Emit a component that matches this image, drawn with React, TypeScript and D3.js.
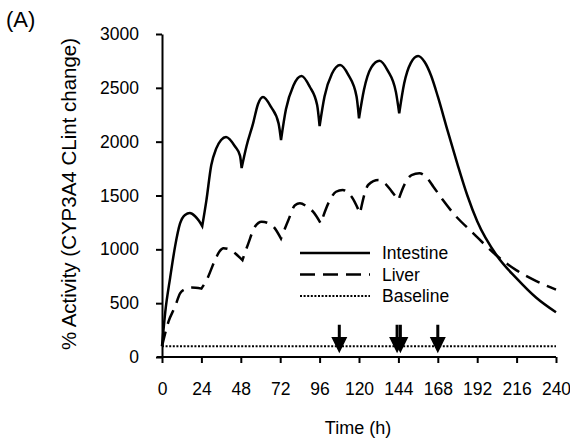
import React, { useEffect, useRef } from "react";
import * as d3 from "d3";

// time (h), % activity
const intestine: [number, number][] = [
  [0, 100], [2, 420], [5, 740], [8, 1030], [11, 1240], [14, 1320], [17, 1337], [20, 1310], [22.5, 1265], [24.5, 1215],
  [27, 1450], [30, 1780], [33, 1935], [36, 2015], [39, 2043], [44.5, 1955], [47.5, 1870], [48.5, 1755],
  [51.5, 1960], [55.5, 2170], [58.5, 2350], [61.5, 2415], [66.5, 2320], [71, 2170], [72.5, 2015],
  [75.5, 2300], [80, 2520], [85, 2610], [90, 2510], [94.5, 2340], [96, 2145],
  [99, 2420], [103.5, 2630], [108.5, 2712], [113.5, 2620], [118.5, 2420], [120, 2217],
  [123, 2480], [127.5, 2690], [132.5, 2752], [137.5, 2660], [142.5, 2460], [144.5, 2263],
  [147.5, 2540], [151.5, 2730], [156, 2796], [160, 2740], [164, 2610], [168, 2420], [174, 2100],
  [180, 1790], [186, 1500], [192, 1260], [204, 940], [216, 730], [228, 550], [240, 415],
];

const liver: [number, number][] = [
  [0, 100], [4, 330], [8, 470], [11, 590], [14, 630], [18, 645], [24, 635],
  [27.2, 715], [32.3, 900], [35, 980], [37.4, 1010], [41, 1000], [44.5, 963], [49, 900],
  [52.6, 1056], [56.6, 1210], [60.7, 1257], [66.8, 1226], [72.5, 1100],
  [77, 1272], [81, 1410], [84, 1427], [88, 1400], [92, 1350], [96.7, 1241],
  [102.3, 1458], [106, 1535], [110, 1551], [115.5, 1489], [120.6, 1334],
  [125.7, 1600], [131.8, 1644], [136, 1610], [140, 1536], [144, 1458],
  [148, 1610], [152, 1690], [156.8, 1706], [161, 1670], [165.3, 1582], [171, 1460], [177.5, 1334],
  [189.6, 1149], [204, 940], [216, 805], [228, 705], [240, 625],
];

const baseline: [number, number][] = [[0, 100], [240, 100]];

// dosing arrows (h); 144 is drawn as a double arrow
const arrowTimes = [108, 143.2, 145.2, 168];

const xTicks = [0, 24, 48, 72, 96, 120, 144, 168, 192, 216, 240];
const yTicks = [0, 500, 1000, 1500, 2000, 2500, 3000];

const seriesNames = ["Intestine", "Liver", "Baseline"];

const FONT = "'Liberation Sans', Arial, sans-serif";

export default function App() {
  const ref = useRef<SVGSVGElement>(null);

  useEffect(() => {
    const svg = d3.select(ref.current);
    svg.selectAll("*").remove();

    const x = d3.scaleLinear().domain([0, 240]).range([162, 556]);
    const y = d3.scaleLinear().domain([0, 3000]).range([357, 34]);

    const line = d3
      .line<[number, number]>()
      .x((d) => x(d[0]))
      .y((d) => y(d[1]))
      .curve(d3.curveMonotoneX);

    // split at troughs so each dosing interval is its own smooth piece (sharp V at the dose)
    const cuspPath = (data: [number, number][]) => {
      const pieces: [number, number][][] = [];
      let cur: [number, number][] = [data[0]];
      for (let i = 1; i < data.length; i++) {
        cur.push(data[i]);
        const isTrough =
          i < data.length - 1 && data[i][1] < data[i - 1][1] && data[i][1] < data[i + 1][1];
        if (isTrough) {
          pieces.push(cur);
          cur = [data[i]];
        }
      }
      pieces.push(cur);
      return pieces
        .map((p, i) => {
          const s = line(p) || "";
          return i === 0 ? s : "L" + s.slice(1);
        })
        .join("");
    };

    // axes
    const gy = svg
      .append("g")
      .attr("transform", `translate(${x(0)},0)`)
      .call(
        d3
          .axisLeft(y)
          .tickValues(yTicks)
          .tickFormat(d3.format("d"))
          .tickSize(6)
          .tickSizeOuter(0)
          .tickPadding(17)
      );
    const gx = svg
      .append("g")
      .attr("transform", `translate(0,${y(0)})`)
      .call(
        d3.axisBottom(x).tickValues(xTicks).tickSize(6).tickSizeOuter(0).tickPadding(20)
      );
    [gx, gy].forEach((g) => {
      g.select(".domain").attr("stroke", "#000").attr("stroke-width", 2);
      g.selectAll(".tick line").attr("stroke", "#000").attr("stroke-width", 2);
      g.selectAll(".tick text")
        .attr("fill", "#000")
        .style("font-family", FONT)
        .style("font-size", "17.5px");
    });
    // extend x axis slightly left like the original
    gx.select(".domain").attr("d", `M${x(0) - 5},0H${x(240)}`);

    // baseline
    svg
      .append("path")
      .attr("d", line(baseline))
      .attr("fill", "none")
      .attr("stroke", "#000")
      .attr("stroke-width", 2)
      .attr("stroke-dasharray", "2,1.6");

    svg
      .append("path")
      .attr("d", cuspPath(liver))
      .attr("fill", "none")
      .attr("stroke", "#000")
      .attr("stroke-width", 2.5)
      .attr("stroke-dasharray", "15,8");

    svg
      .append("path")
      .attr("d", cuspPath(intestine))
      .attr("fill", "none")
      .attr("stroke", "#000")
      .attr("stroke-width", 2.5);

    // arrows
    svg
      .selectAll(".arrow")
      .data(arrowTimes)
      .enter()
      .append("path")
      .attr("class", "arrow")
      .attr("fill", "#000")
      .attr("d", (t) => {
        const cx = x(t);
        const top = y(300);
        const headTop = y(185);
        const tip = y(35);
        return `M${cx - 1.5},${top}H${cx + 1.5}V${headTop}H${cx + 8}L${cx},${tip}L${cx - 8},${headTop}H${cx - 1.5}Z`;
      });

    // legend
    const legend = svg.append("g").attr("transform", "translate(300,253)");
    const dashes = [null, "15,8", "2,1.6"];
    seriesNames.forEach((name, i) => {
      const row = legend.append("g").attr("transform", `translate(0,${i * 21.5})`);
      row
        .append("line")
        .attr("x1", 0)
        .attr("x2", 70)
        .attr("stroke", "#000")
        .attr("stroke-width", i === 2 ? 2 : 2.5)
        .attr("stroke-dasharray", dashes[i]);
      row
        .append("text")
        .attr("x", 82)
        .attr("dy", "0.35em")
        .style("font-family", FONT)
        .style("font-size", "17.5px")
        .text(name);
    });

    // axis titles
    svg
      .append("text")
      .attr("x", 358)
      .attr("y", 434)
      .attr("text-anchor", "middle")
      .style("font-family", FONT)
      .style("font-size", "18px")
      .text("Time (h)");

    svg
      .append("text")
      .attr("transform", "translate(76,194) rotate(-90)")
      .attr("text-anchor", "middle")
      .style("font-family", FONT)
      .style("font-size", "20.5px")
      .text("% Activity (CYP3A4 CLint change)");

    svg
      .append("text")
      .attr("x", 6)
      .attr("y", 27)
      .style("font-family", FONT)
      .style("font-size", "22px")
      .text("(A)");
  }, []);

  return (
    <svg
      ref={ref}
      width={570}
      height={440}
      style={{ position: "absolute", left: 0, top: 0, background: "#fff" }}
    />
  );
}
